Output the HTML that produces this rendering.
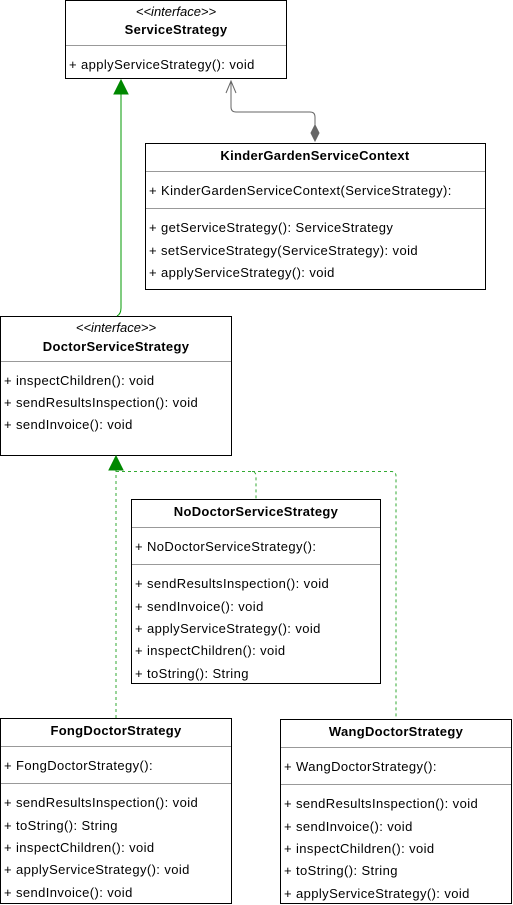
<!DOCTYPE html>
<html><head><meta charset="utf-8"><style>
html,body{margin:0;padding:0;background:#fff;}
svg{display:block;}
text{font-family:"Liberation Sans",Arial,sans-serif;font-size:13px;letter-spacing:0.4px;fill:#000;}
.b{font-weight:bold;letter-spacing:0.3px;}
.c{text-anchor:middle;}
.i{font-style:italic;letter-spacing:0;}
</style></head><body>
<svg width="513" height="905" viewBox="0 0 513 905" xmlns="http://www.w3.org/2000/svg">
<g fill="#fff" stroke="#000" stroke-width="1">
<rect x="65.5" y="0.5" width="221" height="78"/>
<rect x="145.5" y="143.5" width="340" height="146"/>
<rect x="0.5" y="316.5" width="231" height="139"/>
<rect x="131.5" y="499.5" width="249" height="184"/>
<rect x="0.5" y="718.5" width="231" height="185"/>
<rect x="280.5" y="719.5" width="231" height="184"/>
</g>
<g stroke="#999" stroke-width="1">
<line x1="66" y1="45.5" x2="286" y2="45.5"/>
<line x1="146" y1="171.5" x2="485" y2="171.5"/>
<line x1="146" y1="208.5" x2="485" y2="208.5"/>
<line x1="1" y1="361.5" x2="231" y2="361.5"/>
<line x1="132" y1="527.5" x2="380" y2="527.5"/>
<line x1="132" y1="564.5" x2="380" y2="564.5"/>
<line x1="1" y1="746.5" x2="231" y2="746.5"/>
<line x1="1" y1="783.5" x2="231" y2="783.5"/>
<line x1="281" y1="747.5" x2="511" y2="747.5"/>
<line x1="281" y1="784.5" x2="511" y2="784.5"/>
</g>
<path d="M117 316 Q121 314 121 308 L121 94" fill="none" stroke="#009900" stroke-width="1"/>
<polygon points="121,80 114,94 128,94" fill="#008800" stroke="#008800"/>
<path d="M315 131 L315 117 Q315 112 310 112 L236 112 Q231 112 231 107 L231 81" fill="none" stroke="#666" stroke-width="1"/>
<polyline points="226,93 231,81 236,93" fill="none" stroke="#666" stroke-width="1"/>
<polygon points="315,125 319,133 315,141 311,133" fill="#666" stroke="#666"/>
<g fill="none" stroke="#33aa33" stroke-width="1" stroke-dasharray="3,3">
<path d="M116 718 L116 470"/>
<path d="M116 471.5 L252 471.5 Q256 472 256 476 L256 499"/>
<path d="M252 471.5 L392 471.5 Q396 472 396 476 L396 719"/>
</g>
<polygon points="116,456 109,470 123,470" fill="#008800" stroke="#008800"/>
<text x="176" y="16" class="c i">&lt;&lt;interface&gt;&gt;</text>
<text x="176" y="34" class="c b">ServiceStrategy</text>
<text x="69" y="69">+ applyServiceStrategy(): void</text>

<text x="315" y="160" class="c b">KinderGardenServiceContext</text>
<text x="149" y="195">+ KinderGardenServiceContext(ServiceStrategy):</text>
<text x="149" y="232">+ getServiceStrategy(): ServiceStrategy</text>
<text x="149" y="255">+ setServiceStrategy(ServiceStrategy): void</text>
<text x="149" y="277">+ applyServiceStrategy(): void</text>

<text x="116" y="332" class="c i">&lt;&lt;interface&gt;&gt;</text>
<text x="116" y="351" class="c b">DoctorServiceStrategy</text>
<text x="4" y="385">+ inspectChildren(): void</text>
<text x="4" y="407">+ sendResultsInspection(): void</text>
<text x="4" y="429">+ sendInvoice(): void</text>

<text x="256" y="516" class="c b">NoDoctorServiceStrategy</text>
<text x="135" y="551">+ NoDoctorServiceStrategy():</text>
<text x="135" y="588">+ sendResultsInspection(): void</text>
<text x="135" y="611">+ sendInvoice(): void</text>
<text x="135" y="633">+ applyServiceStrategy(): void</text>
<text x="135" y="655">+ inspectChildren(): void</text>
<text x="135" y="678">+ toString(): String</text>

<text x="116" y="735" class="c b">FongDoctorStrategy</text>
<text x="4" y="770">+ FongDoctorStrategy():</text>
<text x="4" y="807">+ sendResultsInspection(): void</text>
<text x="4" y="830">+ toString(): String</text>
<text x="4" y="852">+ inspectChildren(): void</text>
<text x="4" y="874">+ applyServiceStrategy(): void</text>
<text x="4" y="897">+ sendInvoice(): void</text>

<text x="396" y="736" class="c b">WangDoctorStrategy</text>
<text x="284" y="771">+ WangDoctorStrategy():</text>
<text x="284" y="808">+ sendResultsInspection(): void</text>
<text x="284" y="831">+ sendInvoice(): void</text>
<text x="284" y="853">+ inspectChildren(): void</text>
<text x="284" y="875">+ toString(): String</text>
<text x="284" y="898">+ applyServiceStrategy(): void</text>
</svg>
</body></html>
